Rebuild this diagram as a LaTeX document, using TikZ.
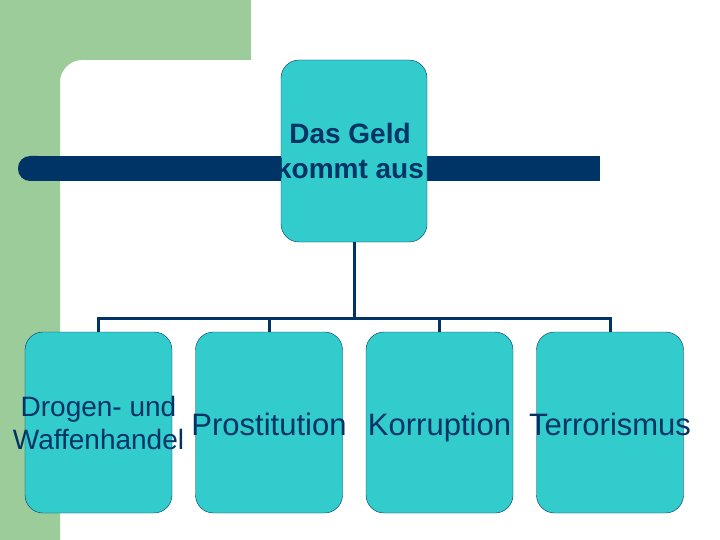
\documentclass[tikz,border=0pt]{standalone}
\usepackage{fontspec}
\setmainfont{Liberation Sans}
\usepackage{tikz}
\usetikzlibrary{positioning}
\definecolor{slidegreen}{HTML}{9CCC99}
\definecolor{boxcyan}{HTML}{33CCCC}
\definecolor{navy}{HTML}{003366}

\begin{document}
\begin{tikzpicture}[x=1pt, y=-1pt,
  root/.style={draw=navy, fill=boxcyan, rounded corners=18pt,
               minimum width=146pt, minimum height=182pt, inner sep=0pt},
  leaf/.style={draw=navy, fill=boxcyan, rounded corners=18pt,
               minimum width=147pt, minimum height=181pt, inner sep=0pt},
  headlbl/.style={font=\fontsize{28}{35}\selectfont\bfseries, text=navy,
                  align=center, inner sep=0pt},
  leaflbl/.style={font=\fontsize{31}{35}\selectfont, text=navy, inner sep=0pt,
                  text height=22pt, text depth=0pt, yshift=-1.5pt},
  twolbl/.style={font=\fontsize{28}{33}\selectfont, text=navy, inner sep=0pt,
                 align=center},
  link/.style={draw=navy, line width=3pt}
]
  \useasboundingbox[fill=white] (0,0) rectangle (720,540);

  % slide background
  \fill[slidegreen] (0,0) -- (251,0) -- (251,60) -- (82,60)
    .. controls (70,60) and (60,70) .. (60,82) -- (60,540) -- (0,540) -- cycle;

  % title bar
  \fill[navy, rounded corners=12pt] (18,156) rectangle (50,181);
  \fill[navy] (36,156) rectangle (600,181);

  \node[root, label={[headlbl, xshift=-4pt]center:Das Geld\\kommt aus}] (geld) at (354,151) {};

  \node[leaf, label={[twolbl]center:Drogen- und\\Waffenhandel}] (drogen) at (98.5,422.5) {};
  \node[leaf, label={[leaflbl]center:Prostitution}] (prost)  at (269,422.5)  {};
  \node[leaf, label={[leaflbl]center:Korruption}]   (korr)   at (439.5,422.5) {};
  \node[leaf, label={[leaflbl]center:Terrorismus}]  (terror) at (610,422.5)  {};

  \coordinate (hub) at (354,318);
  \draw[link] (geld) -- (hub);
  \foreach \n in {drogen, prost, korr, terror}
    \draw[link] (hub) -| (\n.north);
\end{tikzpicture}
\end{document}
